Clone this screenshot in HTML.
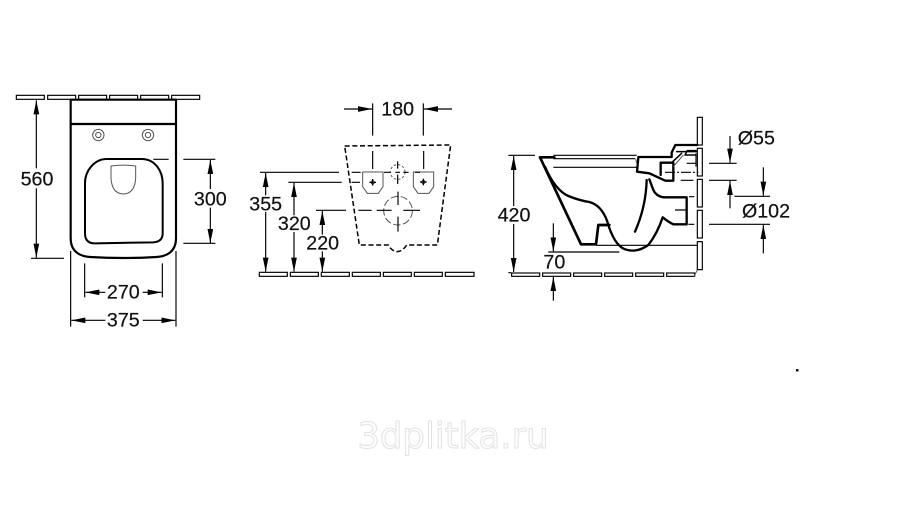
<!DOCTYPE html>
<html><head><meta charset="utf-8"><style>
html,body{margin:0;padding:0;background:#fff;width:907px;height:523px;overflow:hidden}
svg{display:block}
text{font-family:"Liberation Sans",Arial,sans-serif;font-size:59px;fill:#111;stroke:#111;stroke-width:.6;text-anchor:middle}
.d{stroke:#000;stroke-width:3.500;fill:none}
.t{stroke:#000;stroke-width:3.500;fill:#fff}
.k{stroke:#000;fill:none;stroke-linejoin:round;stroke-linecap:round}
.g{stroke:#555;fill:none;stroke-width:3}
.w{fill:#fff;stroke:none}
</style></head><body>
<svg width="907" height="523" viewBox="0 0 907 523" xmlns="http://www.w3.org/2000/svg">
<defs>
<marker id="a" markerUnits="userSpaceOnUse" markerWidth="44" markerHeight="22" refX="42" refY="11" orient="auto-start-reverse"><path d="M0 2.500L42 11L0 19.500Z" fill="#000"/></marker>
</defs>

<!-- LEFT VIEW -->
<g transform="translate(0,85) scale(.33333)">
<rect class="t" x="49" y="31" width="84" height="12"/><rect class="t" x="143" y="31" width="84" height="12"/><rect class="t" x="236" y="31" width="84" height="12"/><rect class="t" x="329" y="31" width="84" height="12"/><rect class="t" x="422" y="31" width="84" height="12"/><rect class="t" x="515" y="31" width="84" height="12"/>
<path class="k" style="fill:#fff" stroke-width="6.500" d="M212 44H528V460C528 500 500 514 470 516Q370 522 270 516C240 514 212 500 212 460Z"/>
<path class="k" stroke-width="7" d="M212 117H528"/>
<path class="k" stroke-width="6" d="M320 222H425C465 222 488 258 488 295V445Q488 470 460 472L285 475Q255 475 255 445V295C255 255 285 222 320 222Z"/>
<path class="k" style="stroke:#555" stroke-width="3" d="M333 243Q370 238 407 243V280Q404 326 370 327Q336 326 333 280Z"/>
<circle class="g" cx="295" cy="150" r="17"/><circle class="g" cx="295" cy="150" r="8"/>
<circle class="g" cx="444" cy="150" r="17"/><circle class="g" cx="444" cy="150" r="8"/>
<path class="d" d="M460 223H506M550 223H646M550 475H646M93 520H192"/>
<path class="d" d="M212 498V725M528 498V725M254 535V637M487 535V637"/>
<line class="d" x1="109" y1="46" x2="109" y2="518" marker-start="url(#a)" marker-end="url(#a)"/>
<rect class="w" x="55" y="250" width="110" height="60"/><text x="111" y="301">560</text>
<line class="d" x1="631" y1="225" x2="631" y2="474" marker-start="url(#a)" marker-end="url(#a)"/>
<rect class="w" x="578" y="312" width="106" height="56"/><text x="631" y="361">300</text>
<line class="d" x1="256" y1="622" x2="485" y2="622" marker-start="url(#a)" marker-end="url(#a)"/>
<rect class="w" x="316" y="592" width="112" height="56"/><text x="370" y="641">270</text>
<line class="d" x1="214" y1="706" x2="526" y2="706" marker-start="url(#a)" marker-end="url(#a)"/>
<rect class="w" x="316" y="676" width="112" height="54"/><text x="370" y="725">375</text>
</g>

<!-- CENTER VIEW -->
<g transform="translate(240,90) scale(.33333)">
<rect class="t" x="58" y="547" width="84" height="12"/><rect class="t" x="151" y="547" width="84" height="12"/><rect class="t" x="244" y="547" width="84" height="12"/><rect class="t" x="337" y="547" width="84" height="12"/><rect class="t" x="430" y="547" width="84" height="12"/><rect class="t" x="523" y="547" width="84" height="12"/><rect class="t" x="616" y="547" width="86" height="12"/>
<path class="d" d="M398 40V137M550 40V137M398 183V237M551 183V237"/>
<line class="d" x1="312" y1="57" x2="396" y2="57" marker-end="url(#a)"/>
<line class="d" x1="636" y1="57" x2="552" y2="57" marker-end="url(#a)"/>
<text x="473" y="76">180</text>
<path class="k" stroke-width="4.500" style="stroke-linecap:butt" stroke-dasharray="15 8" d="M314 168L632 165L592 465H500Q488 484 472 485Q455 484 445 465H358Z"/>
<path class="g" d="M368 246H429V290L415 310H382L368 290Z"/>
<path class="g" d="M520 246H581V290L567 310H534L520 290Z"/>
<path class="d" d="M388 277H408M398 267V287M540 276H560M550 266V286"/>
<path d="M398 270L405 277L398 284L391 277ZM550 269L557 276L550 283L543 276Z" fill="none" stroke="#000" stroke-width="2"/>
<circle class="g" cx="473" cy="246" r="22" stroke-dasharray="7 6"/>
<circle class="g" cx="474" cy="362" r="43" stroke-dasharray="22 8"/>
<path class="d" d="M60 247H297M335 247H362M432 247H452M466 247H480M490 247H506M525 247H540M145 277H305M335 277H360M228 361H318M355 361H395M410 361H455M490 361H540M473 214V236M473 254V282M474 305V345M474 380V425"/>
<line class="d" x1="77" y1="249" x2="77" y2="545" marker-start="url(#a)" marker-end="url(#a)"/>
<line class="d" x1="162" y1="279" x2="162" y2="545" marker-start="url(#a)" marker-end="url(#a)"/>
<line class="d" x1="247" y1="363" x2="247" y2="545" marker-start="url(#a)" marker-end="url(#a)"/>
<rect class="w" x="25" y="316" width="105" height="50"/><text x="77" y="362">355</text>
<rect class="w" x="112" y="376" width="102" height="50"/><text x="163" y="420">320</text>
<rect class="w" x="197" y="434" width="102" height="50"/><text x="248" y="479">220</text>
</g>

<!-- RIGHT VIEW -->
<g transform="translate(490,110) scale(.33333)">
<rect class="t" x="65" y="489" width="84" height="10"/><rect class="t" x="158" y="489" width="84" height="10"/><rect class="t" x="251" y="489" width="84" height="10"/><rect class="t" x="344" y="489" width="84" height="10"/><rect class="t" x="437" y="489" width="84" height="10"/><rect class="t" x="530" y="489" width="84" height="10"/>
<rect class="t" x="622" y="22" width="15" height="83"/><rect class="t" x="622" y="115" width="15" height="83"/><rect class="t" x="622" y="208" width="15" height="83"/><rect class="t" x="622" y="301" width="15" height="83"/><rect class="t" x="622" y="395" width="15" height="84"/>
<path class="d" d="M55 136H135M55 488H64M190 136H440M190 146H435M190 172H440M318 406H622M175 426H388"/>
<path class="d" d="M572 211H610M597 260H613M595 343H613M555 300H590M590 160H620M618 130V170"/>
<path class="d" stroke-dasharray="30 6 6 6" d="M525 187H625"/>
<path class="d" d="M657 160H740M657 211H740M733 259H840M657 343H840"/>
<path class="k" stroke-width="8" d="M150 142H193M150 142L273 403H318L325 345H358"/>
<path class="k" stroke-width="7" d="M165 170Q195 240 235 258Q270 272 298 276Q335 286 352 335Q372 405 405 418Q440 430 475 405Q502 370 518 322Q535 336 550 343H590V262H520Q498 258 490 240L478 208"/>
<path class="k" stroke-width="7" d="M470 210Q468 290 435 365"/>
<path class="k" stroke-width="7" d="M445 141H545V128L556 105H622M445 143L441 185L478 190L526 212H550V158H512V195"/>
<path class="k" stroke-width="4.500" d="M560 125H620M548 155L575 130M585 135L592 122H618M585 135H618"/>
<path class="g" stroke-width="2" d="M437 146L441 165M612 499L622 480M550 170L580 135"/>
<line class="d" x1="71" y1="138" x2="71" y2="486" marker-start="url(#a)" marker-end="url(#a)"/>
<rect class="w" x="20" y="288" width="104" height="54"/><text x="72" y="334">420</text>
<line class="d" x1="190" y1="340" x2="190" y2="424" marker-end="url(#a)"/>
<line class="d" x1="190" y1="572" x2="190" y2="501" marker-end="url(#a)"/>
<text x="193" y="476">70</text>
<line class="d" x1="720" y1="78" x2="720" y2="158" marker-end="url(#a)"/>
<line class="d" x1="720" y1="295" x2="720" y2="213" marker-end="url(#a)"/>
<line class="d" x1="820" y1="172" x2="820" y2="257" marker-end="url(#a)"/>
<line class="d" x1="820" y1="430" x2="820" y2="345" marker-end="url(#a)"/>
<text x="799" y="103">Ø55</text>
<rect class="w" x="752" y="275" width="150" height="56"/><text x="828" y="323">Ø102</text>
</g>

<text x="453" y="448" style="font-family:'DejaVu Sans',sans-serif;font-size:35.500px;fill:#fff;stroke:#e2e2e2;stroke-width:1">3dplitka.ru</text>
<rect x="796" y="369" width="2.500" height="2.500" fill="#111"/>
</svg>
</body></html>
